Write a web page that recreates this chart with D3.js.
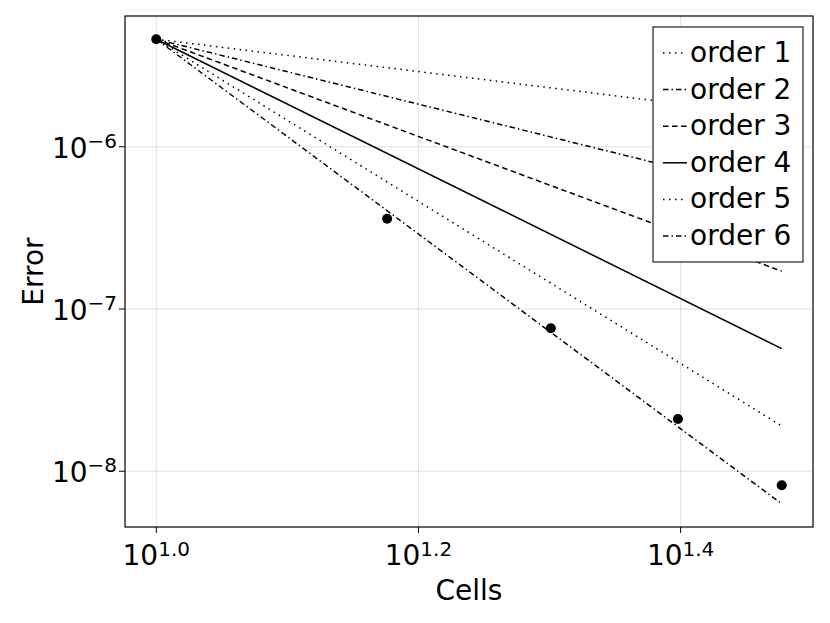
<!DOCTYPE html>
<html>
<head>
<meta charset="utf-8">
<script src="https://cdn.jsdelivr.net/npm/d3@7"></script>
<style>
  body { margin: 0; background: #fff; }
  text { font-family: "DejaVu Sans", sans-serif; fill: #000; }
</style>
</head>
<body>
<div id="container"></div>
<script>
/* DATA */
const cells = [10, 15, 20, 25, 30];
const errors = [4.6e-6, 3.6e-7, 7.6e-8, 2.1e-8, 8.2e-9];

// reference slopes, drawn from first to last cell count
const orderNames = ["order 1", "order 2", "order 3", "order 4", "order 5", "order 6"];
const orderX = [10, 30];
const orderStart = [4.6e-6, 4.6e-6, 4.6e-6, 4.6e-6, 4.6e-6, 4.6e-6];
const orderEnd = [1.54e-6, 5.1e-7, 1.71e-7, 5.7e-8, 1.9e-8, 6.3e-9];

const xTickExp = ["1.0", "1.2", "1.4"];
const yTickExp = ["−8", "−7", "−6"];

/* CONSTANTS */
const width = 830, height = 623;
const plot = { left: 125, right: 813, top: 16, bottom: 527 };
const dashes = ["1.5,4.5", "5.5,3,1.5,3", "5.5,3.5", null, "1.5,4.5", "5.5,3,1.5,3"];

const svg = d3.select("#container")
  .append("svg")
  .attr("width", width)
  .attr("height", height);

// log domains padded by 5% like the original
const pad = (lo, hi) => { const r = hi - lo; return [lo - r * 0.05, hi + r * 0.05]; };
const xl = pad(Math.log10(d3.min(cells)), Math.log10(d3.max(cells)));
const allY = errors.concat(orderStart, orderEnd);
const yl = pad(Math.log10(d3.min(allY)), Math.log10(d3.max(allY)));

const x = d3.scaleLog().domain(xl.map(v => 10 ** v)).range([plot.left, plot.right]);
const y = d3.scaleLog().domain(yl.map(v => 10 ** v)).range([plot.bottom, plot.top]);

const xTicks = xTickExp.map(e => 10 ** (+e));
const yTicks = yTickExp.map(e => 10 ** (+e.replace("−", "-")));

// GRID
svg.append("g").selectAll("line").data(xTicks).join("line")
  .attr("x1", d => x(d)).attr("x2", d => x(d))
  .attr("y1", plot.top).attr("y2", plot.bottom)
  .attr("stroke", "rgba(0,0,0,0.12)").attr("stroke-width", 1);
svg.append("g").selectAll("line").data(yTicks).join("line")
  .attr("y1", d => y(d)).attr("y2", d => y(d))
  .attr("x1", plot.left).attr("x2", plot.right)
  .attr("stroke", "rgba(0,0,0,0.12)").attr("stroke-width", 1);

// REFERENCE LINES
const line = d3.line().x(d => x(d[0])).y(d => y(d[1]));
orderNames.forEach((name, i) => {
  svg.append("path")
    .attr("d", line([[orderX[0], orderStart[i]], [orderX[1], orderEnd[i]]]))
    .attr("fill", "none")
    .attr("stroke", "#000")
    .attr("stroke-width", 1.5)
    .attr("stroke-dasharray", dashes[i]);
});

// SCATTER
svg.append("g").selectAll("circle").data(cells).join("circle")
  .attr("cx", d => x(d))
  .attr("cy", (d, i) => y(errors[i]))
  .attr("r", 5)
  .attr("fill", "#000");

// FRAME
svg.append("rect")
  .attr("x", plot.left).attr("y", plot.top)
  .attr("width", plot.right - plot.left).attr("height", plot.bottom - plot.top)
  .attr("fill", "none").attr("stroke", "#000").attr("stroke-width", 1.2);

// TICKS
svg.append("g").selectAll("line").data(xTicks).join("line")
  .attr("x1", d => x(d)).attr("x2", d => x(d))
  .attr("y1", plot.bottom).attr("y2", plot.bottom + 6)
  .attr("stroke", "#000");
svg.append("g").selectAll("line").data(yTicks).join("line")
  .attr("y1", d => y(d)).attr("y2", d => y(d))
  .attr("x1", plot.left).attr("x2", plot.left - 6)
  .attr("stroke", "#000");

const xlab = svg.append("g").selectAll("text").data(xTicks).join("text")
  .attr("x", d => x(d)).attr("y", 565)
  .attr("text-anchor", "middle")
  .style("font-size", "28px");
xlab.append("tspan").text("10");
xlab.append("tspan").attr("dy", -9).style("font-size", "20px").text((d, i) => xTickExp[i]);

const ylab = svg.append("g").selectAll("text").data(yTicks).join("text")
  .attr("x", plot.left - 8).attr("y", d => y(d) + 11)
  .attr("text-anchor", "end")
  .style("font-size", "28px");
ylab.append("tspan").text("10");
ylab.append("tspan").attr("dy", -10).style("font-size", "20px").text((d, i) => yTickExp[i]);

// AXIS LABELS
svg.append("text")
  .attr("x", (plot.left + plot.right) / 2).attr("y", 600)
  .attr("text-anchor", "middle")
  .style("font-size", "28px")
  .text("Cells");
svg.append("text")
  .attr("transform", `translate(43, ${(plot.top + plot.bottom) / 2}) rotate(-90)`)
  .attr("text-anchor", "middle")
  .style("font-size", "28px")
  .text("Error");

// LEGEND
const legend = svg.append("g");
legend.append("rect")
  .attr("x", 653).attr("y", 27).attr("width", 150).attr("height", 235)
  .attr("fill", "#fff").attr("stroke", "#222").attr("stroke-width", 1.2);
orderNames.forEach((name, i) => {
  const base = 62 + i * 36.6;
  legend.append("line")
    .attr("x1", 663).attr("x2", 687)
    .attr("y1", base - 9).attr("y2", base - 9)
    .attr("stroke", "#000").attr("stroke-width", 1.5)
    .attr("stroke-dasharray", dashes[i]);
  legend.append("text")
    .attr("x", 690).attr("y", base)
    .style("font-size", "28px")
    .text(name);
});
</script>
</body>
</html>
